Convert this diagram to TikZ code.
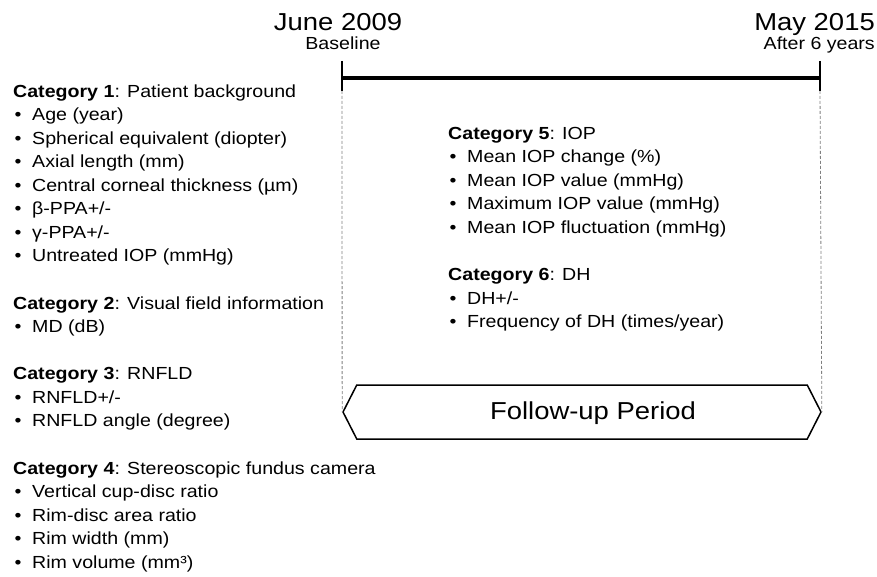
\documentclass[tikz,border=0pt]{standalone}
\usepackage{fontspec}
\setmainfont{Liberation Sans}[FakeStretch=1.12]
\usetikzlibrary{positioning}
\usetikzlibrary{shapes.symbols}

\newcommand{\cathead}[2]{\strut\textbf{Category #1}: #2}
\newcommand{\itm}[1]{\\\strut\makebox[19pt][l]{\hspace{1.5pt}\textbullet}#1}

\begin{document}
\begin{tikzpicture}[x=1pt, y=-1pt,
    cat/.style={anchor=north west, align=left, inner sep=0pt,
        font=\fontsize{17.5}{23.5}\selectfont},
    date/.style={inner sep=0pt, font=\fontsize{24.5}{28}\selectfont},
    sub/.style={inner sep=0pt, font=\fontsize{17.5}{20}\selectfont},
    tick/.style={line width=1.6pt},
    guide/.style={gray, line width=0.8pt, dash pattern=on 3pt off 2pt},
    node distance=23.5pt]
    \useasboundingbox (0,0) rectangle (877,577);

    % dates
    \node (jun) at (338,31) [date, anchor=base] {June 2009};
    \node (base) at (343,50) [sub, anchor=base] {Baseline};
    \node (may) at (875,31) [date, anchor=base east] {May 2015};
    \node (after) at (875,50) [sub, anchor=base east] {After 6 years};

    % timeline
    \coordinate (s0) at (342,78);
    \coordinate (s1) at (820,78);
    \draw[line width=4pt] (s0) -- (s1);
    \draw[tick] ([yshift=17pt]s0) -- ([yshift=-13pt]s0);
    \draw[tick] ([yshift=17pt]s1) -- ([yshift=-13pt]s1);

    \node (fup) at (582,412) [signal, signal to=west and east,
        signal pointer angle=126, draw, line width=1.5pt, fill=white,
        minimum width=478pt, minimum height=54pt, inner sep=0pt] {};
    \node (fuptxt) at (593,413) [date] {Follow-up Period};
    \draw[guide] ([yshift=-13pt]s0) -- (fup.west);
    \draw[guide] ([yshift=-13pt]s1) -- (fup.east);

    % left column
    \node (cat1) at (13,80.5) [cat] {\cathead{1}{Patient background}
        \itm{Age (year)}
        \itm{Spherical equivalent (diopter)}
        \itm{Axial length (mm)}
        \itm{Central corneal thickness (µm)}
        \itm{β-PPA+/-}
        \itm{γ-PPA+/-}
        \itm{Untreated IOP (mmHg)}};
    \node (cat2) [cat, below=of cat1.south west, anchor=north west]
        {\cathead{2}{Visual field information}
        \itm{MD (dB)}};
    \node (cat3) [cat, below=of cat2.south west, anchor=north west]
        {\cathead{3}{RNFLD}
        \itm{RNFLD+/-}
        \itm{RNFLD angle (degree)}};
    \node (cat4) [cat, below=of cat3.south west, anchor=north west]
        {\cathead{4}{Stereoscopic fundus camera}
        \itm{Vertical cup-disc ratio}
        \itm{Rim-disc area ratio}
        \itm{Rim width (mm)}
        \itm{Rim volume (mm³)}};

    % right column
    \node (cat5) at (448,122.5) [cat] {\cathead{5}{IOP}
        \itm{Mean IOP change (\%)}
        \itm{Mean IOP value (mmHg)}
        \itm{Maximum IOP value (mmHg)}
        \itm{Mean IOP fluctuation (mmHg)}};
    \node (cat6) [cat, below=of cat5.south west, anchor=north west]
        {\cathead{6}{DH}
        \itm{DH+/-}
        \itm{Frequency of DH (times/year)}};
\end{tikzpicture}
\end{document}
